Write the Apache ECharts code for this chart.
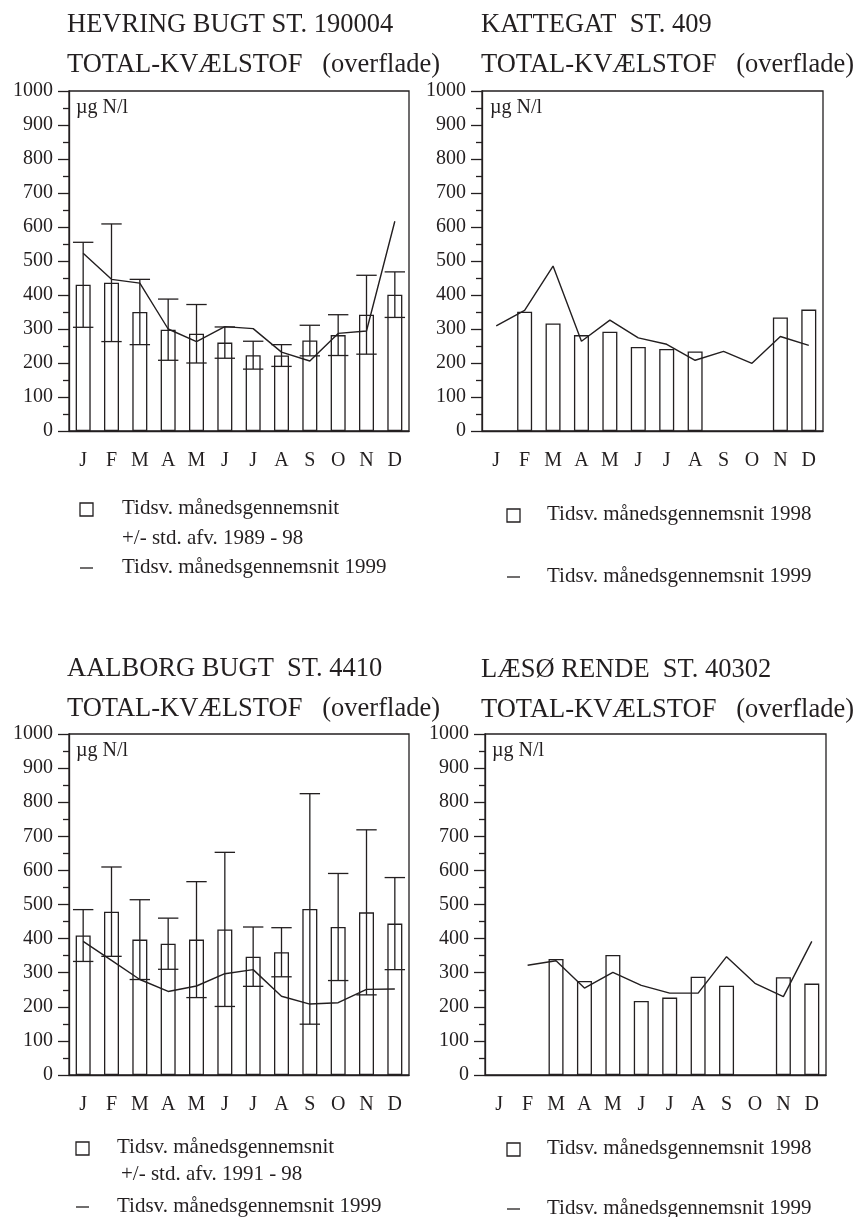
<!doctype html>
<html>
<head>
<meta charset="UTF-8">
<title>Total-kvælstof (overflade)</title>
<style>
	html, body { margin: 0; padding: 0; background: #fff; }
	#chart { width: 860px; height: 1217px; }
</style>
</head>
<body>
<div id="chart"></div>
<script src="https://cdn.jsdelivr.net/npm/echarts@6/dist/echarts.min.js"></script>
<script type="text/javascript">
	var months = ['J', 'F', 'M', 'A', 'M', 'J', 'J', 'A', 'S', 'O', 'N', 'D'];

	// Hevring Bugt st. 190004: middel +/- std. afv. 1989-98, og 1999
	var hevMean = [430, 436, 350, 298, 286, 260, 223, 222, 266, 282, 342, 401];
	var hevStd = [125, 173, 96, 90, 86, 46, 41, 32, 45, 60, 116, 67];
	var hev1999 = [523, 446, 435, 300, 263, 307, 301, 232, 206, 287, 294, 617];

	// Kattegat st. 409: 1998 og 1999
	var kat1998 = [null, 351, 316, 282, 292, 247, 241, 234, null, null, 334, 357];
	var kat1999 = [309, 355, 485, 264, 326, 274, 255, 208, 234, 199, 278, 252];

	// Aalborg Bugt st. 4410: middel +/- std. afv. 1991-98, og 1999
	var aalMean = [409, 479, 397, 385, 397, 427, 347, 360, 487, 434, 477, 444];
	var aalStd = [76, 131, 117, 75, 170, 226, 87, 72, 338, 157, 242, 135];
	var aal1999 = [392, 336, 280, 245, 261, 297, 309, 231, 208, 212, 251, 252];

	// Læsø Rende st. 40302: 1998 og 1999
	var lae1998 = [null, null, 340, 276, 352, 217, 227, 288, 262, null, 287, 268];
	var lae1999 = [null, 322, 335, 255, 301, 263, 240, 240, 347, 269, 230, 392];

	var FONT = '"Liberation Serif", "DejaVu Serif", serif';
	var INK = '#231f20';

	var grids = [
		{ left: 69, top: 91, width: 340, height: 340 },
		{ left: 482, top: 91, width: 341, height: 340 },
		{ left: 69, top: 734, width: 340, height: 341 },
		{ left: 485, top: 734, width: 341, height: 341 }
	];

	function errData(mean, std) {
		var out = [];
		for(var i = 0; i < mean.length; i++) {
			out.push([i, mean[i] - std[i], mean[i] + std[i]]);
		}
		return out;
	}

	// lodret streg med tværstreger i begge ender
	function renderErr(params, api) {
		var lo = api.coord([api.value(0), api.value(1)]);
		var hi = api.coord([api.value(0), api.value(2)]);
		var half = api.size([1, 0])[0] * 0.36;
		var style = { stroke: INK, lineWidth: 1.3 };
		return {
			type: 'group',
			children: [
				{ type: 'line', shape: { x1: lo[0], y1: lo[1], x2: hi[0], y2: hi[1] }, style: style },
				{ type: 'line', shape: { x1: lo[0] - half, y1: lo[1], x2: lo[0] + half, y2: lo[1] }, style: style },
				{ type: 'line', shape: { x1: hi[0] - half, y1: hi[1], x2: hi[0] + half, y2: hi[1] }, style: style }
			]
		};
	}

	var xAxes = [], yAxes = [], series = [];
	for(var g = 0; g < 4; g++) {
		xAxes.push({
			gridIndex: g,
			type: 'category',
			data: months,
			boundaryGap: true,
			axisLine: { lineStyle: { color: INK, width: 1.3 } },
			axisTick: { length: 10, lineStyle: { color: INK, width: 1.3 } },
			axisLabel: { fontFamily: FONT, fontSize: 20, color: INK, margin: 20 },
			splitLine: { show: false }
		});
		yAxes.push({
			gridIndex: g,
			type: 'value',
			min: 0,
			max: 1000,
			interval: 100,
			axisLine: { show: true, lineStyle: { color: INK, width: 1.3 } },
			axisTick: { show: true, length: 11, lineStyle: { color: INK, width: 1.3 } },
			minorTick: { show: true, splitNumber: 2, length: 6, lineStyle: { color: INK, width: 1.3 } },
			axisLabel: {
				fontFamily: FONT, fontSize: 20, color: INK, margin: 16,
				formatter: function(v) { return String(v); }
			},
			splitLine: { show: false }
		});
	}

	function addBars(g, data) {
		series.push({
			type: 'bar',
			xAxisIndex: g,
			yAxisIndex: g,
			data: data,
			barWidth: 15,
			itemStyle: { color: '#fff', borderColor: INK, borderWidth: 1.3 },
			silent: true
		});
	}

	function addErr(g, mean, std) {
		series.push({
			type: 'custom',
			xAxisIndex: g,
			yAxisIndex: g,
			data: errData(mean, std),
			renderItem: renderErr,
			silent: true,
			z: 3
		});
	}

	function addLine(g, data) {
		series.push({
			type: 'line',
			xAxisIndex: g,
			yAxisIndex: g,
			data: data,
			symbol: 'none',
			connectNulls: false,
			lineStyle: { color: INK, width: 1.4 },
			silent: true,
			z: 4
		});
	}

	addBars(0, hevMean);
	addErr(0, hevMean, hevStd);
	addLine(0, hev1999);

	addBars(1, kat1998);
	addLine(1, kat1999);

	addBars(2, aalMean);
	addErr(2, aalMean, aalStd);
	addLine(2, aal1999);

	addBars(3, lae1998);
	addLine(3, lae1999);

	var titleStyle = { fontFamily: FONT, fontSize: 26.5, fontWeight: 'normal', color: INK, lineHeight: 40 };
	var titles = [
		{ text: 'HEVRING BUGT ST. 190004\nTOTAL-KVÆLSTOF   (overflade)', left: 67, top: 5, padding: 0, textStyle: titleStyle },
		{ text: 'KATTEGAT  ST. 409\nTOTAL-KVÆLSTOF   (overflade)', left: 481, top: 5, padding: 0, textStyle: titleStyle },
		{ text: 'AALBORG BUGT  ST. 4410\nTOTAL-KVÆLSTOF   (overflade)', left: 67, top: 649, padding: 0, textStyle: titleStyle },
		{ text: 'LÆSØ RENDE  ST. 40302\nTOTAL-KVÆLSTOF   (overflade)', left: 481, top: 650, padding: 0, textStyle: titleStyle }
	];

	function txt(x, y, s, size) {
		return {
			type: 'text',
			x: x,
			y: y,
			style: { text: s, fontFamily: FONT, fontSize: size, fill: INK, verticalAlign: 'middle', align: 'left' }
		};
	}
	function box(x, y) {
		return { type: 'rect', shape: { x: x, y: y - 7, width: 13, height: 13 }, style: { fill: '#fff', stroke: INK, lineWidth: 1.3 } };
	}
	function dash(x, y) {
		return { type: 'line', shape: { x1: x, y1: y, x2: x + 13, y2: y }, style: { stroke: INK, lineWidth: 1.3 } };
	}

	var graphics = [
		txt(76, 108, 'µg N/l', 20),
		txt(490, 108, 'µg N/l', 20),
		txt(76, 751, 'µg N/l', 20),
		txt(492, 751, 'µg N/l', 20),

		box(80, 510), txt(122, 508, 'Tidsv. månedsgennemsnit', 21),
		txt(122, 538, '+/- std. afv. 1989 - 98', 21),
		dash(80, 568), txt(122, 567, 'Tidsv. månedsgennemsnit 1999', 21),

		box(507, 516), txt(547, 514, 'Tidsv. månedsgennemsnit 1998', 21),
		dash(507, 577), txt(547, 576, 'Tidsv. månedsgennemsnit 1999', 21),

		box(76, 1149), txt(117, 1147, 'Tidsv. månedsgennemsnit', 21),
		txt(121, 1174, '+/- std. afv. 1991 - 98', 21),
		dash(76, 1207), txt(117, 1206, 'Tidsv. månedsgennemsnit 1999', 21),

		box(507, 1150), txt(547, 1148, 'Tidsv. månedsgennemsnit 1998', 21),
		dash(507, 1209), txt(547, 1208, 'Tidsv. månedsgennemsnit 1999', 21)
	];

	var option = {
		backgroundColor: '#fff',
		animation: false,
		title: titles,
		grid: grids.map(function(r) {
			return { left: r.left, top: r.top, width: r.width, height: r.height, show: true, borderColor: INK, borderWidth: 1.3, backgroundColor: 'transparent' };
		}),
		xAxis: xAxes,
		yAxis: yAxes,
		series: series,
		graphic: graphics
	};

	var chart = echarts.init(document.getElementById('chart'));
	chart.setOption(option);
</script>
</body>
</html>
